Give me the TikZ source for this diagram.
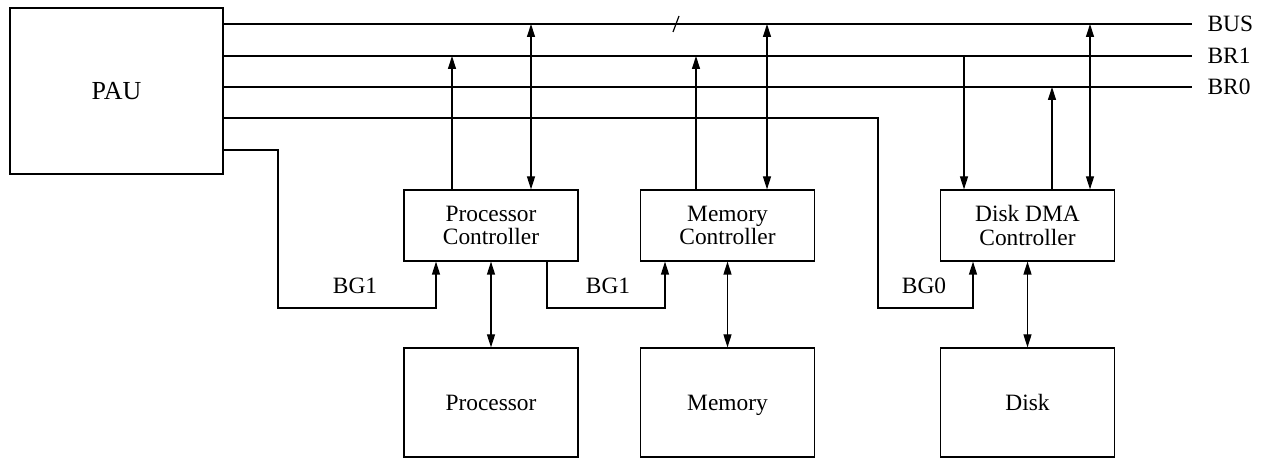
\documentclass[tikz,border=0pt]{standalone}
\usepackage{fontspec}
\setmainfont{Liberation Serif}
\usetikzlibrary{arrows.meta}
\begin{document}
\begin{tikzpicture}[x=0.5pt,y=-0.5pt,
  line width=0.6pt,
  box/.style={draw,rectangle,inner sep=0pt,align=center,font=\fontsize{11.7pt}{11.6pt}\selectfont},
  dev/.style={box,minimum width=87pt,minimum height=54.5pt,text depth=0pt},
  ctl/.style={box,minimum width=87pt,minimum height=35.5pt},
  lbl/.style={inner sep=0pt,font=\fontsize{11.7pt}{13pt}\selectfont},
  arr/.style={-{Triangle[length=6.5pt,width=4pt]}},
  darr/.style={{Triangle[length=6.5pt,width=4pt]}-{Triangle[length=6.5pt,width=4pt]}}]
\useasboundingbox (0,0) rectangle (1265,458);
% boxes
\node[box,minimum width=106.5pt,minimum height=83pt,font=\fontsize{13pt}{15pt}\selectfont] (pau) at (116.5,91) {PAU};
\node[ctl] (pc) at (491,225.5) {Processor\\Controller};
\node[ctl] (mc) at (727.5,225.5) {Memory\\Controller};
\node[ctl] (dc) at (1027.5,225.5) {Disk DMA\\Controller};
\node[dev] (proc) at (491,402.5) {Processor};
\node[dev] (mem) at (727.5,402.5) {Memory};
\node[dev] (disk) at (1027.5,402.5) {Disk};
% bus line ends and labels
\coordinate (bus) at (1192,24);
\coordinate (br1) at (1192,56);
\coordinate (br0) at (1192,87);
\node[lbl,anchor=west] (tbus) at (1207,24) {BUS};
\node[lbl,anchor=west] (tbr1) at (1207,56) {BR1};
\node[lbl,anchor=west] (tbr0) at (1207,87) {BR0};
% helper coordinates
\coordinate (ya) at (0,150);
\coordinate (yc) at (0,118);
\coordinate (yb) at (0,308);
\coordinate (xa) at (452,0);
\coordinate (xb) at (531,0);
\coordinate (xc) at (696,0);
\coordinate (xd) at (767,0);
\coordinate (xe) at (964,0);
\coordinate (xf) at (1052,0);
\coordinate (xg) at (1090,0);
\coordinate (xh) at (278,0);
\coordinate (xi) at (436,0);
\coordinate (xj) at (547,0);
\coordinate (xk) at (665,0);
\coordinate (xl) at (878,0);
\coordinate (xm) at (973,0);
% bus lines
\draw (pau.east |- bus) -- (bus);
\draw (pau.east |- br1) -- (br1);
\draw (pau.east |- br0) -- (br0);
\draw (673,32) -- (679,16);
% controller to bus connections
\draw[arr] (pc.north -| xa) -- (br1 -| xa);
\draw[darr] (pc.north -| xb) -- (bus -| xb);
\draw[arr] (mc.north -| xc) -- (br1 -| xc);
\draw[darr] (mc.north -| xd) -- (bus -| xd);
\draw[arr] (br1 -| xe) -- (dc.north -| xe);
\draw[arr] (dc.north -| xf) -- (br0 -| xf);
\draw[darr] (dc.north -| xg) -- (bus -| xg);
% grant chain
\draw[arr] (pau.east |- ya) -| (xh |- yb) -| (pc.south -| xi);
\draw[arr] (pc.south -| xj) |- (xk |- yb) -- (mc.south -| xk);
\draw[arr] (pau.east |- yc) -| (xl |- yb) -| (dc.south -| xm);
\node[lbl] (bg1a) at (355,286) {BG1};
\node[lbl] (bg1b) at (608,286) {BG1};
\node[lbl] (bg0) at (924,286) {BG0};
% device links
\draw[darr] (pc.south) -- (proc.north);
\draw[darr] (mc.south) -- (mem.north);
\draw[darr] (dc.south) -- (disk.north);
\end{tikzpicture}
\end{document}
